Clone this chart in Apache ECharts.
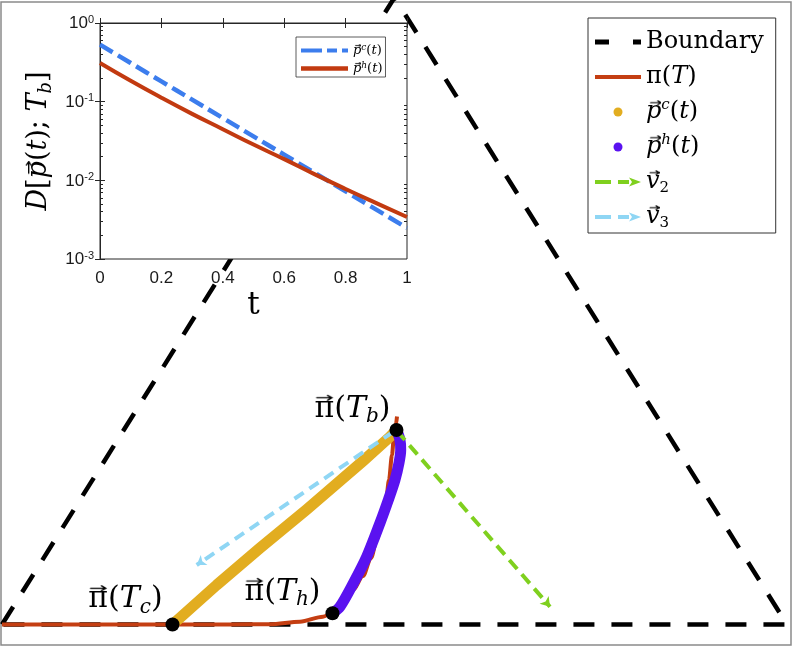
<!DOCTYPE html>
<html>
<head>
<meta charset="utf-8">
<script src="https://cdn.jsdelivr.net/npm/echarts@6/dist/echarts.min.js"></script>
<style>
html, body { margin: 0; padding: 0; background: #fff; }
#chart { width: 793px; height: 647px; }
</style>
</head>
<body>
<div id="chart"></div>
<script>
// simplex coordinates: x along the base (0..1), y as a fraction of the triangle height
const boundary = [[0, 0], [0.5, 1], [1, 0], [0, 0]];
const piT = [
  [0, 0], [0.1248, 0], [0.2166, 0], [0.2904, 0], [0.3414, 0.0005], [0.3796, 0.0045],
  [0.4089, 0.0124], [0.4204, 0.0183], [0.4344, 0.0343], [0.4471, 0.055], [0.4599, 0.0774],
  [0.4701, 0.1061], [0.4777, 0.1364], [0.4841, 0.1667], [0.4892, 0.1986], [0.4930, 0.2305],
  [0.4968, 0.2703], [0.4994, 0.3022], [0.5019, 0.3198], [0.5032, 0.3317]
];
const pC = [
  [0.2172, 0], [0.2735, 0.063], [0.3287, 0.122], [0.3882, 0.1835], [0.4603, 0.2612],
  [0.4943, 0.2995], [0.5025, 0.3102]
];
const pH = [
  [0.4210, 0.0179], [0.4306, 0.0284], [0.4475, 0.0657], [0.4646, 0.1081], [0.4815, 0.1619],
  [0.4921, 0.1986], [0.5006, 0.2305], [0.5057, 0.2576], [0.5079, 0.2783], [0.5070, 0.2943],
  [0.5028, 0.3102]
];
const v2 = [[0.5032, 0.3086], [0.6981, 0.0284]];
const v3 = [[0.4981, 0.3070], [0.2480, 0.0949]];
const keyNames = ['Tc', 'Th', 'Tb'];
const keyPoints = [[0.2172, 0], [0.4210, 0.0179], [0.5025, 0.3102]];

// inset: distance to pi(T_b) along the two paths
const tValues = [0, 0.1, 0.2, 0.3, 0.4, 0.5, 0.6, 0.7, 0.8, 0.9, 1];
const distC = [0.53, 0.31, 0.181, 0.106, 0.062, 0.0362, 0.0212, 0.0124, 0.00724, 0.00424, 0.00248];
const distH = [0.31, 0.184, 0.1122, 0.07, 0.0447, 0.0285, 0.0186, 0.0119, 0.00776, 0.00513, 0.00342];
const yDecades = [-3, -2, -1, 0];

const SERIF = "'DejaVu Serif', serif";
const SANS = "'Liberation Sans', Arial, sans-serif";
const INK = '#000';

// small vector arrow drawn behind a glyph (the font has no combining arrow)
function arrowCanvas(text, size, italic, lh) {
  const c = document.createElement('canvas');
  const ctx = c.getContext('2d');
  ctx.font = (italic ? 'italic ' : '') + size + 'px ' + SERIF;
  const w = Math.max(2, Math.ceil(ctx.measureText(text).width));
  c.width = w;
  c.height = lh;
  const y = lh / 2 - size * 0.45;
  const x0 = w * (italic ? 0.3 : 0.12);
  const x1 = w * (italic ? 0.98 : 0.88);
  const hs = Math.max(2, size * 0.14);
  ctx.strokeStyle = INK;
  ctx.lineWidth = Math.max(1, size * 0.055);
  ctx.lineCap = 'round';
  ctx.beginPath();
  ctx.moveTo(x0, y);
  ctx.lineTo(x1, y);
  ctx.moveTo(x1 - hs, y - hs * 0.7);
  ctx.lineTo(x1, y);
  ctx.lineTo(x1 - hs, y + hs * 0.7);
  ctx.stroke();
  return c;
}

const rich = (size, lh, small, supLh, subLh) => ({
  r: { fontFamily: SERIF, fontSize: size, lineHeight: lh, color: INK },
  i: { fontFamily: SERIF, fontSize: size, lineHeight: lh, fontStyle: 'italic', color: INK },
  pv: { fontFamily: SERIF, fontSize: size, lineHeight: lh, fontStyle: 'italic', color: INK,
        backgroundColor: { image: arrowCanvas('p', size, true, lh) } },
  vv: { fontFamily: SERIF, fontSize: size, lineHeight: lh, fontStyle: 'italic', color: INK,
        backgroundColor: { image: arrowCanvas('v', size, true, lh) } },
  piv: { fontFamily: SERIF, fontSize: size, lineHeight: lh, color: INK,
         backgroundColor: { image: arrowCanvas('π', size, false, lh) } },
  sup: { fontFamily: SERIF, fontSize: small, lineHeight: supLh, fontStyle: 'italic', verticalAlign: 'top', color: INK },
  sub: { fontFamily: SERIF, fontSize: small, lineHeight: subLh, fontStyle: 'italic', verticalAlign: 'bottom', color: INK },
  subn: { fontFamily: SERIF, fontSize: small, lineHeight: subLh, verticalAlign: 'bottom', color: INK }
});

const legendLabels = {
  Boundary: '{r|Boundary}',
  piT: '{r|π(}{i|T}{r|)}',
  pc: '{pv|p}{sup|c}{r|(}{i|t}{r|)}',
  ph: '{pv|p}{sup|h}{r|(}{i|t}{r|)}',
  v2: '{vv|v}{subn|2}',
  v3: '{vv|v}{subn|3}',
  Dc: '{pv|p}{sup|c}{r|(}{i|t}{r|)}',
  Dh: '{pv|p}{sup|h}{r|(}{i|t}{r|)}'
};
const keyLabels = {
  Tc: '{piv|π}{r|(}{i|T}{sub|c}{r|)}',
  Th: '{piv|π}{r|(}{i|T}{sub|h}{r|)}',
  Tb: '{piv|π}{r|(}{i|T}{sub|b}{r|)}'
};
const keyOffsets = { Tc: [-47, -25], Th: [-50, -21], Tb: [-44, -21] };

const colors = {
  boundary: '#000',
  piT: '#c43e12',
  pc: '#e2ad20',
  ph: '#5a12f0',
  v2: '#7fd01e',
  v3: '#8fd6f4',
  Dc: '#3c7ded',
  Dh: '#c23a10'
};

const minorTicks = [];
yDecades.slice(0, -1).forEach(d => {
  for (let k = 2; k <= 9; k++) minorTicks.push(d + Math.log10(k));
});

const chart = echarts.init(document.getElementById('chart'));
const keyRich = rich(30, 36, 20, 20, 26);

const option = {
  animation: false,
  backgroundColor: '#fff',
  grid: [
    { left: 1, top: 2, width: 790, height: 643, show: true, borderColor: '#8a8a8a', borderWidth: 1.5, z: 0, outerBoundsMode: 'none' },
    { left: 100, top: 23, width: 307, height: 236, show: true, backgroundColor: '#fff', borderColor: '#262626', borderWidth: 1, z: 10, outerBoundsMode: 'none' }
  ],
  xAxis: [
    { gridIndex: 0, type: 'value', min: -0.001274, max: 1.005096, show: false },
    {
      gridIndex: 1, type: 'value', min: 0, max: 1, interval: 0.2, position: 'bottom', z: 11,
      axisLine: { show: true, lineStyle: { color: '#262626', width: 1 } },
      axisTick: { inside: true, length: 5, lineStyle: { color: '#262626' } },
      axisLabel: { fontFamily: SANS, fontSize: 17, color: '#1a1a1a', margin: 11 },
      splitLine: { show: false },
      name: 't', nameLocation: 'middle', nameGap: 31, nameMoveOverlap: false,
      nameTextStyle: { fontFamily: SERIF, fontSize: 31, color: INK }
    },
    {
      gridIndex: 1, type: 'value', min: 0, max: 1, interval: 0.2, position: 'top', z: 11,
      axisLine: { show: false }, axisLabel: { show: false }, splitLine: { show: false },
      axisTick: { inside: true, length: 5, lineStyle: { color: '#262626' } }
    }
  ],
  yAxis: [
    { gridIndex: 0, type: 'value', min: -0.032695, max: 0.992823, show: false },
    {
      gridIndex: 1, type: 'log', logBase: 10, min: 0.001, max: 1, position: 'left', z: 11,
      axisLine: { show: true, lineStyle: { color: '#262626', width: 1 } },
      axisTick: { inside: true, length: 5, lineStyle: { color: '#262626' } },
      splitLine: { show: false },
      axisLabel: {
        margin: 6,
        formatter: v => '{b|10}{s|' + Math.round(Math.log10(v)) + '}',
        rich: {
          b: { fontFamily: SANS, fontSize: 17, lineHeight: 18, color: '#1a1a1a', verticalAlign: 'bottom' },
          s: { fontFamily: SANS, fontSize: 11, lineHeight: 12, color: '#1a1a1a', verticalAlign: 'top' }
        }
      },
      name: '{i|D}{r|[}{pv|p}{r|(}{i|t}{r|); }{i|T}{sub|b}{r|]}',
      nameLocation: 'middle', nameGap: 45, nameRotate: 90, nameMoveOverlap: false,
      nameTextStyle: { rich: rich(27, 32, 18, 18, 24) }
    },
    {
      gridIndex: 1, type: 'log', logBase: 10, min: 0.001, max: 1, position: 'right', z: 11,
      axisLine: { show: false }, axisLabel: { show: false }, splitLine: { show: false },
      axisTick: { inside: true, length: 5, lineStyle: { color: '#262626' } }
    },
    {
      gridIndex: 1, type: 'value', min: -3, max: 0, position: 'left', z: 11,
      axisLine: { show: false }, axisLabel: { show: false }, splitLine: { show: false },
      axisTick: { inside: true, length: 3, customValues: minorTicks, lineStyle: { color: '#262626' } }
    },
    {
      gridIndex: 1, type: 'value', min: -3, max: 0, position: 'right', z: 11,
      axisLine: { show: false }, axisLabel: { show: false }, splitLine: { show: false },
      axisTick: { inside: true, length: 3, customValues: minorTicks, lineStyle: { color: '#262626' } }
    }
  ],
  legend: [
    {
      left: 588, top: 18, orient: 'vertical',
      padding: [10, 12, 2, 7], itemGap: 7, itemWidth: 46, itemHeight: 9,
      backgroundColor: '#fff', borderColor: '#333', borderWidth: 1, borderRadius: 0,
      selectedMode: false,
      itemStyle: { borderWidth: 0 },
      formatter: name => legendLabels[name],
      textStyle: { fontFamily: SERIF, fontSize: 24, lineHeight: 28, rich: rich(24, 28, 15, 14, 16) },
      data: [
        { name: 'Boundary', icon: 'path://M0,0h14v5h-14z M38,0h8v5h-8z', itemStyle: { color: colors.boundary, borderWidth: 0 } },
        { name: 'piT', icon: 'path://M0,0h46v4h-46z', itemStyle: { color: colors.piT, borderWidth: 0 } },
        { name: 'pc', icon: 'circle', itemStyle: { color: colors.pc, borderWidth: 0 } },
        { name: 'ph', icon: 'circle', itemStyle: { color: colors.ph, borderWidth: 0 } },
        { name: 'v2', icon: 'path://M0,2.5h16v4h-16z M23,2.5h11v4h-11z M34,0L46,4.5L34,9L37,4.5z', itemStyle: { color: colors.v2, borderWidth: 0 } },
        { name: 'v3', icon: 'path://M0,2.5h16v4h-16z M23,2.5h11v4h-11z M34,0L46,4.5L34,9L37,4.5z', itemStyle: { color: colors.v3, borderWidth: 0 } }
      ]
    },
    {
      left: 296, top: 37, orient: 'vertical', z: 20,
      padding: [6, 3, 1, 5], itemGap: 3, itemWidth: 47, itemHeight: 5,
      backgroundColor: '#fff', borderColor: '#333', borderWidth: 0.8,
      selectedMode: false,
      itemStyle: { borderWidth: 0 },
      formatter: name => legendLabels[name],
      textStyle: { fontFamily: SERIF, fontSize: 13, lineHeight: 15, rich: rich(13, 15, 9, 9, 11) },
      data: [
        { name: 'Dc', icon: 'path://M0,0h21v4h-21z M26,0h10v4h-10z M41,0h6v4h-6z', itemStyle: { color: colors.Dc, borderWidth: 0 } },
        { name: 'Dh', icon: 'path://M0,0h47v4.5h-47z', itemStyle: { color: colors.Dh, borderWidth: 0 } }
      ]
    }
  ],
  series: [
    {
      name: 'Boundary', type: 'line', xAxisIndex: 0, yAxisIndex: 0, z: 2,
      data: boundary, showSymbol: false, symbol: 'none', clip: true,
      lineStyle: { color: colors.boundary, width: 4.5, type: [21, 17] }
    },
    {
      name: 'piT', type: 'line', xAxisIndex: 0, yAxisIndex: 0, z: 3,
      data: piT, showSymbol: false, symbol: 'none', smooth: 0.3, smoothMonotone: 'x',
      lineStyle: { color: colors.piT, width: 4 }
    },
    {
      name: 'pc', type: 'line', xAxisIndex: 0, yAxisIndex: 0, z: 4,
      data: pC, showSymbol: false, symbol: 'none', smooth: false,
      lineStyle: { color: colors.pc, width: 11, cap: 'round', join: 'round' }
    },
    {
      name: 'ph', type: 'line', xAxisIndex: 0, yAxisIndex: 0, z: 4,
      data: pH, showSymbol: false, symbol: 'none', smooth: 0.3,
      lineStyle: { color: colors.ph, width: 11, cap: 'round', join: 'round' }
    },
    {
      name: 'v2', type: 'lines', coordinateSystem: 'cartesian2d', xAxisIndex: 0, yAxisIndex: 0, z: 5,
      data: [{ coords: v2 }], symbol: ['none', 'arrow'], symbolSize: 9,
      lineStyle: { color: colors.v2, width: 4, type: [12, 7], opacity: 1 }
    },
    {
      name: 'v3', type: 'lines', coordinateSystem: 'cartesian2d', xAxisIndex: 0, yAxisIndex: 0, z: 5,
      data: [{ coords: v3 }], symbol: ['none', 'arrow'], symbolSize: 9,
      lineStyle: { color: colors.v3, width: 4, type: [11, 7], opacity: 1 }
    },
    {
      name: 'keys', type: 'scatter', xAxisIndex: 0, yAxisIndex: 0, z: 6,
      symbolSize: 14, itemStyle: { color: '#000', opacity: 1 },
      data: keyPoints.map((p, k) => ({
        name: keyNames[k], value: p,
        label: {
          show: true, position: 'inside', offset: keyOffsets[keyNames[k]],
          color: INK, textBorderWidth: 0, textBorderColor: 'transparent',
          formatter: keyLabels[keyNames[k]], rich: keyRich
        }
      }))
    },
    {
      name: 'Dc', type: 'line', xAxisIndex: 1, yAxisIndex: 1, z: 12,
      data: tValues.map((t, k) => [t, distC[k]]), showSymbol: false, symbol: 'none', smooth: true,
      lineStyle: { color: colors.Dc, width: 4.5, type: [15, 6] }
    },
    {
      name: 'Dh', type: 'line', xAxisIndex: 1, yAxisIndex: 1, z: 12,
      data: tValues.map((t, k) => [t, distH[k]]), showSymbol: false, symbol: 'none', smooth: true,
      lineStyle: { color: colors.Dh, width: 4 }
    }
  ]
};

chart.setOption(option);
</script>
</body>
</html>
